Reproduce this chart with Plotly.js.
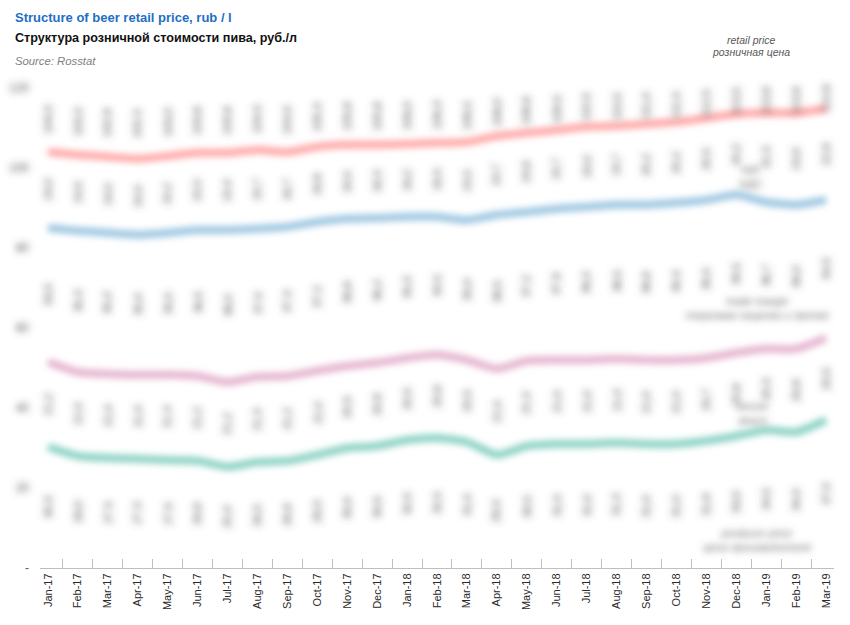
<!DOCTYPE html>
<html>
<head>
<meta charset="utf-8">
<script src="https://cdn.plot.ly/plotly-3.0.1.min.js"></script>
<style>
html,body{margin:0;padding:0;background:#fff;}
#chart{width:850px;height:625px;}
</style>
</head>
<body>
<svg width="0" height="0" style="position:absolute">
  <filter id="bl" filterUnits="userSpaceOnUse" x="-1000" y="-1000" width="4000" height="4000">
    <feGaussianBlur stdDeviation="3.6"/>
  </filter>
  <filter id="bll" filterUnits="userSpaceOnUse" x="-1000" y="-1000" width="4000" height="4000">
    <feGaussianBlur stdDeviation="3.4"/>
  </filter>
</svg>
<div id="chart"></div>
<script>
const months = ["Jan-17","Feb-17","Mar-17","Apr-17","May-17","Jun-17","Jul-17","Aug-17","Sep-17","Oct-17","Nov-17","Dec-17",
  "Jan-18","Feb-18","Mar-18","Apr-18","May-18","Jun-18","Jul-18","Aug-18","Sep-18","Oct-18","Nov-18","Dec-18",
  "Jan-19","Feb-19","Mar-19"];
// retail price
const retailPrice = [104.0,103.3,102.8,102.3,103.0,103.8,103.8,104.5,104.0,105.3,105.8,105.8,
  106.0,106.3,106.5,108.0,108.8,109.5,110.3,110.5,111.0,111.5,112.5,113.5,113.8,113.8,114.8];
// retail price without VAT
const priceNoVat = [85.0,84.3,83.8,83.3,83.8,84.5,84.5,84.8,85.3,86.5,87.3,87.5,
  87.8,87.8,87.0,88.3,89.0,89.8,90.3,90.8,90.8,91.3,92.0,93.3,91.5,90.8,92.0];
// producer price incl. excise
const producerPrice = [51.5,49.0,48.5,48.3,48.3,48.0,46.5,47.8,48.0,49.3,50.5,51.3,
  52.5,53.3,52.0,49.8,51.8,52.0,52.0,52.3,52.0,52.0,52.5,53.8,54.8,54.8,57.5];
// producer price without excise
const producerNoExcise = [30.3,28.0,27.5,27.3,27.0,26.8,25.3,26.5,26.8,28.3,30.0,30.5,
  32.0,32.5,31.5,28.3,30.5,31.0,31.0,31.3,31.0,31.0,31.8,33.0,34.5,34.0,37.0];

const yTickVals = [0,20,40,60,80,100,120];
const yTickText = ["-","20","40","60","80","100","120"];

const seriesNames = ["retail price","price w/o VAT","producer price","producer price w/o excise"];
const seriesColors = ["#ffaaaa","#a0c8e2","#e6b6d0","#8fd3c6"];
const seriesData = [retailPrice, priceNoVat, producerPrice, producerNoExcise];

const fmt = v => v.toFixed(1).replace('.', ',');

const traces = seriesData.map((d,i)=>({
  type:'scatter', mode:'lines', x:months, y:d, name:seriesNames[i],
  line:{color:seriesColors[i], width:8, shape:'spline', smoothing:0.6},
  hoverinfo:'skip', showlegend:false
}));

const F = '"Liberation Sans",Arial,sans-serif';
const sharpAnn = [
  {text:'Структура розничной стоимости пива, руб./л', x:13, y:38, size:12.6, color:'#111', bold:true},
  {text:'<i>Source: Rosstat</i>', x:13, y:61, size:11.3, color:'#808080'},
  {text:'<i>retail price</i>', x:751, y:40, size:10.5, color:'#595959', center:true},
  {text:'<i>розничная цена</i>', x:751, y:52, size:10.5, color:'#595959', center:true}
];
const pl = 40, pt = 88, pw = 794, ph = 480;
const annotations = sharpAnn.map(a=>({
  xref:'paper', yref:'paper', x:(a.x-pl)/pw, y:(pt+ph-a.y)/ph,
  xanchor:a.center?'center':'left', yanchor:'middle', showarrow:false,
  text:a.bold?'<b>'+a.text+'</b>':a.text,
  font:{family:F, size:a.size, color:a.color}
}));
const NSHARP = annotations.length;

// segment labels on the right (blurred in reference)
const sideLabels = [
  {text:'<i>VAT<br>НДС</i>', x:751, y:177},
  {text:'<i>trade margin<br>торговая наценка и прочее</i>', x:757, y:308},
  {text:'<i>excise<br>акциз</i>', x:752, y:413},
  {text:'<i>producer price<br>цена производителя</i>', x:757, y:540}
];
sideLabels.forEach(a=>annotations.push({
  xref:'paper', yref:'paper', x:(a.x-pl)/pw, y:(pt+ph-a.y)/ph,
  xanchor:'center', yanchor:'middle', showarrow:false, text:a.text,
  font:{family:F, size:11, color:'#6a6a6a'}
}));

// data labels (blurred in reference), placed in the middle of each segment
months.forEach((m,i)=>{
  const r = retailPrice[i], b = priceNoVat[i], p = producerPrice[i], t = producerNoExcise[i];
  const rows = [
    [r, (r+120)/2],
    [r-b, (r+b)/2],
    [b-p, (b+p)/2],
    [p-t, (p+t)/2],
    [t, t/2]
  ];
  rows.forEach(([v,y])=>annotations.push({
    x:m, y:y, xref:'x', yref:'y', text:fmt(v), textangle:-90, showarrow:false,
    font:{family:F, size:11.5, color:'#505050'}
  }));
});

const layout = {
  width:850, height:625,
  margin:{l:pl, r:850-pl-pw, t:pt, b:625-pt-ph},
  paper_bgcolor:'#fff', plot_bgcolor:'#fff',
  title:{text:'<b>Structure of beer retail price, rub / l</b>', x:15/850, xanchor:'left', xref:'container',
    y:1-17/625, yref:'container', yanchor:'middle',
    font:{family:F, size:13, color:'#1f6fc4'}},
  xaxis:{type:'category', categoryorder:'array', categoryarray:months,
    tickangle:-90, tickfont:{family:F, size:11, color:'#2a2a2a'},
    showline:true, linecolor:'#bfbfbf', linewidth:1,
    ticks:'inside', ticklen:9, tickcolor:'#bfbfbf', tickson:'boundaries',
    showgrid:false, zeroline:false, fixedrange:true},
  yaxis:{range:[0,120], tickvals:yTickVals, ticktext:yTickText, ticks:'',
    showgrid:false, zeroline:false, showline:false, ticklabelstandoff:10,
    tickfont:{family:F, size:12, color:'#555'}, fixedrange:true},
  annotations:annotations,
  showlegend:false
};

Plotly.newPlot('chart', traces, layout, {displayModeBar:false, staticPlot:true}).then(gd=>{
  const f = 'url(#bl)';
  gd.querySelectorAll('path.js-line').forEach(e=>e.setAttribute('filter', 'url(#bll)'));
  gd.querySelectorAll('.annotation').forEach(e=>{
    const i = +e.getAttribute('data-index');
    if (i >= NSHARP) e.setAttribute('filter', f);
  });
  gd.querySelectorAll('.ytick text').forEach(e=>{
    if (e.textContent.trim() !== '-') e.setAttribute('filter', f);
  });
});
</script>
</body>
</html>
